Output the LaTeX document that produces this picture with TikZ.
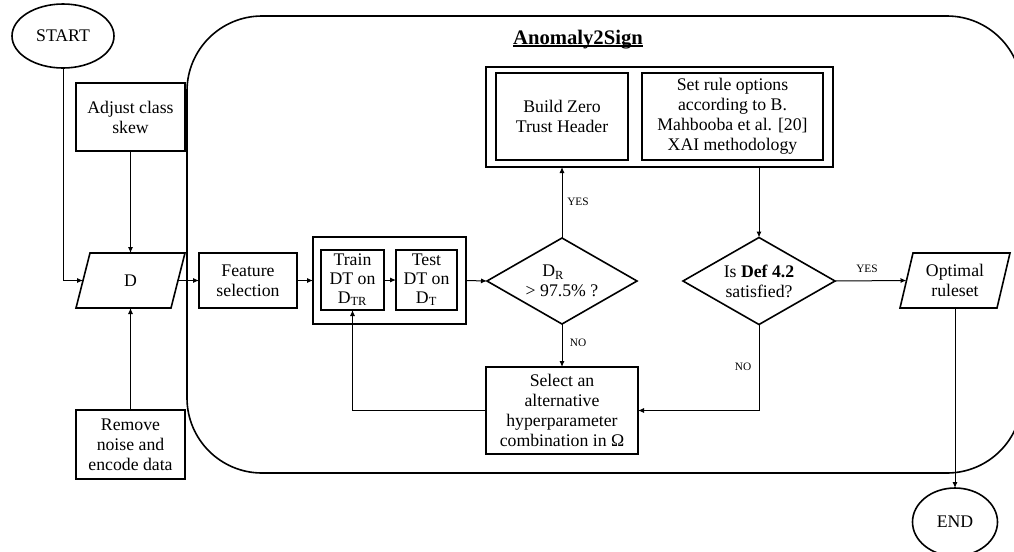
\documentclass[tikz,border=0pt]{standalone}
\usepackage{fontspec}
\setmainfont{Liberation Serif}
\usetikzlibrary{arrows.meta,shapes.geometric,calc}

\begin{document}
\begin{tikzpicture}[x=0.75pt,y=-0.75pt,
  txt/.style={font=\fontsize{13.3}{15}\selectfont, align=center},
  sz/.style 2 args={minimum width=#1*0.75pt, minimum height=#2*0.75pt},
  box/.style={txt, draw, line width=1.2pt, inner sep=0pt, outer sep=0pt},
  ghost/.style={txt, inner sep=0pt, outer sep=0pt},
  term/.style={txt, draw, ellipse, line width=1.2pt, inner sep=0pt, outer sep=0pt},
  shapeline/.style={line width=1.2pt, line join=miter},
  conn/.style={line width=0.75pt},
  arr/.style={conn, -{Latex[length=4.5pt,width=3.8pt]}},
  lbl/.style={font=\fontsize{8.5}{10}\selectfont, inner sep=0pt},
]
\useasboundingbox (0,0) rectangle (1014,551);

% enclosing process region
\draw[line width=1.2pt, rounded corners=56.25pt] (187,16) rectangle (1022,473);
\node[font=\fontsize{15.5}{18}\selectfont\bfseries, inner sep=0pt, anchor=base] (title) at (578,44) {Anomaly2Sign};
\draw[line width=1pt] ($(title.base west)+(0,2)$) -- ($(title.base east)+(0,2)$);

% terminals
\node[term, sz={102}{64}] (start) at (63,36) {START};
\node[term, sz={85}{68}] (end) at (955,522) {END};

% preprocessing
\node[box, sz={109}{68}] (adjust) at (130.5,117) {Adjust class\\skew};
\node[box, sz={109}{69}] (remove) at (130.5,444.5) {Remove\\noise and\\encode data};
\node[ghost, sz={95}{55}] (D) at (130.5,280.5) {D};
\draw[shapeline] ($(D.north west)+(7,0)$) -- ($(D.north east)+(7,0)$)
  -- ($(D.south east)+(-7,0)$) -- ($(D.south west)+(-7,0)$) -- cycle;

% training loop
\node[box, sz={98}{55}] (feature) at (248,280.5) {Feature\\selection};
\node[box, sz={153}{87}] (grp) at (389.5,280.5) {};
\node[box, sz={63}{60}, font=\fontsize{13.3}{14}\selectfont] (train) at (352.5,280) {Train\\DT on\\D\textsubscript{TR}};
\node[box, sz={61}{60}, font=\fontsize{13.3}{14}\selectfont] (test) at (426.5,280) {Test\\DT on\\D\textsubscript{T}};

\node[ghost, sz={150}{86}] (d1) at (562,281) {D\textsubscript{R}\hspace*{1em}\\> 97.5\% ?};
\draw[shapeline] (d1.north) -- (d1.east) -- (d1.south) -- (d1.west) -- cycle;

\node[box, sz={152}{87}] (sel) at (562,410.5) {Select an\\alternative\\hyperparameter\\combination in Ω};

% rule building
\node[box, sz={347}{100}] (top) at (659.5,117) {};
\node[box, sz={132}{87}] (zt) at (562,116.5) {Build Zero\\Trust Header};
\node[box, sz={181}{87}] (xai) at (732.5,116.5) {Set rule options\\according to B.\\Mahbooba et al. [20]\\XAI methodology};

\node[ghost, sz={152}{87}] (d2) at (759,281) {Is \textbf{Def 4.2}\\satisfied?};
\draw[shapeline] (d2.north) -- (d2.east) -- (d2.south) -- (d2.west) -- cycle;

\node[ghost, sz={97}{55}] (opt) at (955,280.5) {Optimal\\ruleset};
\draw[shapeline] ($(opt.north west)+(6.5,0)$) -- ($(opt.north east)+(6.5,0)$)
  -- ($(opt.south east)+(-6.5,0)$) -- ($(opt.south west)+(-6.5,0)$) -- cycle;

% connectors
\draw[arr] (start.south) |- (D.west);
\draw[arr] (adjust.south) -- (D.north);
\draw[arr] (remove.north) -- (D.south);
\draw[arr] (D.east) -- (feature.west);
\draw[arr] (feature.east) -- (grp.west);
\draw[arr] (train.east) -- (test.west);
\draw[arr] (grp.east) -- (d1.west);
\draw[arr] (d1.north) -- (d1.north |- top.south);
\draw[arr] (d2.north |- top.south) -- (d2.north);
\draw[arr] (d1.south) -- (sel.north);
\draw[arr] (d2.east) -- (opt.west);
\draw[arr] (d2.south) |- (sel.east);
\draw[arr] (sel.west) -| (train.south);
\draw[arr] (opt.south) -- (end.north);

% branch labels
\node[lbl] (yes1) at (578,202) {YES};
\node[lbl] (no1) at (578,343) {NO};
\node[lbl] (yes2) at (867,269) {YES};
\node[lbl] (no2) at (743,367) {NO};
\end{tikzpicture}
\end{document}
